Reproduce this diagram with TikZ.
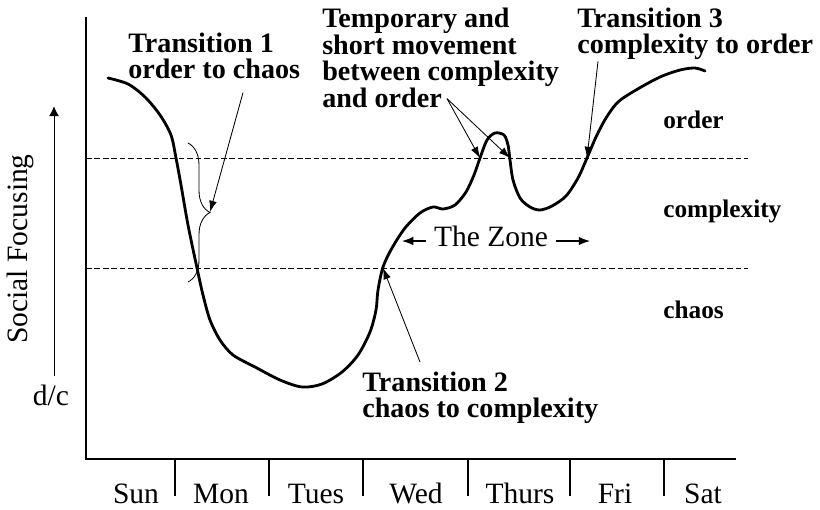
\documentclass[tikz,border=0pt]{standalone}
\usepackage{fontspec}
\setmainfont{Liberation Serif}
\usetikzlibrary{arrows.meta, calc, decorations.pathreplacing}

\begin{document}
\begin{tikzpicture}[
    x=0.025cm, y=-0.025cm,
    every node/.style={inner sep=0pt},
    note/.style={font=\bfseries\fontsize{20}{18}\selectfont, align=left, anchor=north west},
    levelname/.style={font=\bfseries\fontsize{18}{18}\selectfont, anchor=base west},
    plain/.style={font=\fontsize{21}{21}\selectfont},
    axis/.style={line width=1pt},
    bound/.style={line width=0.6pt, dash pattern=on 4pt off 2pt},
    walk/.style={line width=2pt, line join=round, line cap=round},
    pointer/.style={-{Latex[length=8pt, width=5.5pt]}, line width=0.6pt},
    zonearrow/.style={-{Latex[length=8pt, width=6pt]}, line width=0.8pt}
]
\useasboundingbox (0,0) rectangle (820,509);

% ============ AXES ============
\coordinate (origin) at (86,459);
\draw[axis] (86,17) -- (origin) -- (736,459);
\foreach \x in {175,269,363,468,570,664}
    \draw[axis] (\x,459) -- (\x,496);

% days of the week
\foreach \d/\x in {Sun/136,Mon/221,Tues/316,Wed/416,Thurs/520,Fri/615,Sat/703}
    \node[plain, anchor=base] (day-\d) at (\x,503) {\d};

% level boundaries
\draw[bound] (86,158) -- (748,158);
\draw[bound] (86,268) -- (748,268);

% ============ Y LABEL ============
\node[plain, rotate=90, anchor=base] (focus) at (27,249) {Social Focusing};
\node[plain, anchor=base] (dc) at (51,405) {d/c};
\draw[-{Latex[length=7pt, width=7pt]}, line width=0.7pt] ($(dc.north)+(3,-8)$) -- ++(0,-270);

% ============ LEVELS ============
\node[levelname] (order) at (663,128) {order};
\node[levelname] (complexity) at (663,217) {complexity};
\node[levelname] (chaos) at (663,318) {chaos};

% ============ THE WEEK ============
\draw[walk] plot[smooth, tension=0.5] coordinates {
    (108,78) (128,84) (145,97) (160,115) (171,135) (176,158) (181,185)
    (188,225) (197,268) (203,295) (210,320) (220,340) (233,355) (255,367)
    (280,380) (302,387) (322,384) (342,372) (358,355) (370,332) (376,310)
    (378,290) (383,267) (392,248) (405,228) (420,213) (433,207) (443,209)
    (455,205) (466,192) (474,175) (480,158) (487,140) (495,133) (504,135)
    (508,145) (510,160) (513,180) (520,198) (530,207) (540,210) (552,206)
    (566,196) (578,178) (587,158) (596,137) (606,118) (618,102) (636,90)
    (660,77) (680,70) (695,68) (705,71)};

% crossing points
\coordinate (cross0) at (383,268);
\coordinate (cross1) at (480,158);
\coordinate (cross2) at (510,158);
\coordinate (cross3) at (587,158);

% brace over the fall
\draw[decorate, decoration={brace, amplitude=0.55cm}, line width=0.6pt] (188,143) -- (188,282);
\coordinate (bracetip) at (210,212);

% ============ NOTES ============
\node[note] (tr1) at (128,33) {Transition 1\\order to chaos};
\node[note] (shortmove) at (322,8) {Temporary and\\short movement\\between complexity\\and order};
\node[note] (tr3) at (577,8) {Transition 3\\complexity to order};
\node[note] (tr2) at (362,372) {Transition 2\\chaos to complexity};

\draw[pointer] ($(tr1.south west)+(115,14)$) -- (bracetip);
\draw[pointer] ($(shortmove.south west)+(125,-9)$) -- (cross1);
\draw[pointer] ($(shortmove.south west)+(125,-9)$) -- (cross2);
\draw[pointer] ($(tr3.south west)+(21,2)$) -- (cross3);
\draw[pointer] ($(tr2.north west)+(58,-10)$) -- (cross0);

% the zone
\node[plain, anchor=base] (zone) at (491,246) {The Zone};
\coordinate (zoneL) at (402,241);
\coordinate (zoneR) at (590,241);
\draw[zonearrow] ($(zone.base west)+(-8,-5)$) -- (zoneL);
\draw[zonearrow] ($(zone.base east)+(8,-5)$) -- (zoneR);

\end{tikzpicture}
\end{document}
